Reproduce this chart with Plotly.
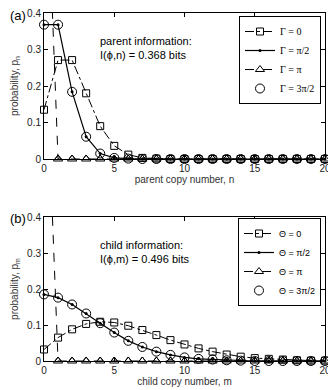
"""Parent / child copy-number distributions, two stacked panels."""

import plotly.graph_objects as go

n = list(range(21))

# panel (a): parent copy number
parent_g0 = [0.135, 0.271, 0.271, 0.180, 0.090, 0.036, 0.012, 0.003, 0.001, 0.0, 0.0,
             0.0, 0.0, 0.0, 0.0, 0.0, 0.0, 0.0, 0.0, 0.0, 0.0]
parent_g_half = [0.368, 0.368, 0.184, 0.061, 0.015, 0.003, 0.001, 0.0, 0.0, 0.0, 0.0,
                 0.0, 0.0, 0.0, 0.0, 0.0, 0.0, 0.0, 0.0, 0.0, 0.0]
parent_g_pi = [1.0] + [0.0] * 20
parent_g_3half = parent_g_half

# panel (b): child copy number
child_t0 = [0.032, 0.065, 0.088, 0.103, 0.109, 0.107, 0.098, 0.086, 0.072, 0.058, 0.046,
            0.035, 0.026, 0.018, 0.012, 0.008, 0.006, 0.004, 0.002, 0.001, 0.001]
child_t_half = [0.185, 0.176, 0.157, 0.132, 0.105, 0.079, 0.056, 0.039, 0.026, 0.017, 0.010,
                0.006, 0.004, 0.002, 0.001, 0.0, 0.0, 0.0, 0.0, 0.0, 0.0]
child_t_pi = [1.0] + [0.0] * 20
child_t_3half = child_t_half

FONT = "Liberation Sans, Arial, sans-serif"
BLACK = "black"

# the page puts the figure 8px in from the top-left corner
W, H, OFF = 328, 382, 8


def px_x(p):
    return (p - OFF) / W


def px_y(p):
    return 1 - (p - OFF) / H


def add_panel(fig, xa, ya, legend, sym, y0, y_half, y_pi, y_3half):
    common = dict(xaxis=xa, yaxis=ya, legend=legend)
    fig.add_trace(go.Scatter(
        x=n, y=y0, mode="lines+markers", name=f"{sym} = 0",
        line=dict(color=BLACK, width=1, dash="dashdot"),
        marker=dict(symbol="square-open", size=7, color=BLACK, line=dict(width=1)),
        cliponaxis=False, **common))
    fig.add_trace(go.Scatter(
        x=n, y=y_half, mode="lines+markers", name=f"{sym} = π/2",
        line=dict(color=BLACK, width=1.2),
        marker=dict(symbol="circle", size=3, color=BLACK),
        cliponaxis=False, **common))
    # dashed line keeps the off-scale first point, markers drawn separately
    fig.add_trace(go.Scatter(
        x=n, y=y_pi, mode="lines+markers", name=f"{sym} = π",
        line=dict(color=BLACK, width=1, dash="dash"),
        marker=dict(symbol="triangle-up-open", size=8, color=BLACK, line=dict(width=1)),
        cliponaxis=True, legendgroup=legend + "pi", **common))
    fig.add_trace(go.Scatter(
        x=n[1:], y=y_pi[1:], mode="markers", showlegend=False,
        marker=dict(symbol="triangle-up-open", size=8, color=BLACK, line=dict(width=1)),
        cliponaxis=False, legendgroup=legend + "pi", **common))
    fig.add_trace(go.Scatter(
        x=n, y=y_3half, mode="markers", name=f"{sym} = 3π/2",
        marker=dict(symbol="circle-open", size=9, color=BLACK, line=dict(width=1)),
        cliponaxis=False, **common))


fig = go.Figure()
add_panel(fig, "x", "y", "legend", "Γ", parent_g0, parent_g_half, parent_g_pi, parent_g_3half)
add_panel(fig, "x2", "y2", "legend2", "Θ", child_t0, child_t_half, child_t_pi, child_t_3half)

axis_style = dict(
    showline=True, linecolor=BLACK, linewidth=1, mirror="ticks", ticks="inside",
    ticklen=4, tickcolor=BLACK, showgrid=False, zeroline=False, automargin=False,
    ticklabeloverflow="allow",
    tickfont=dict(family=FONT, size=10, color="#222"),
)
title_font = dict(family=FONT, size=10, color="#333")
xdom = [px_x(44), px_x(325)]
fig.update_layout(
    width=W, height=H,
    margin=dict(l=0, r=0, t=0, b=0),
    paper_bgcolor="white", plot_bgcolor="white",
    font=dict(family=FONT, size=10, color="#111"),
    xaxis=dict(domain=xdom, range=[0, 20], dtick=5, anchor="y",
               title=dict(text="parent copy number, n", standoff=2, font=title_font),
               **axis_style),
    yaxis=dict(domain=[px_y(159), px_y(13)], range=[0, 0.4], dtick=0.1, anchor="x",
               title=dict(text="probability, p<sub>n</sub>", standoff=6, font=title_font),
               **axis_style),
    xaxis2=dict(domain=xdom, range=[0, 20], dtick=5, anchor="y2",
                title=dict(text="child copy number, m", standoff=2, font=title_font),
                **axis_style),
    yaxis2=dict(domain=[px_y(361), px_y(217)], range=[0, 0.4], dtick=0.1, anchor="x2",
                title=dict(text="probability, p<sub>m</sub>", standoff=6, font=title_font),
                **axis_style),
    legend=dict(x=px_x(321), xanchor="right", y=px_y(16), yanchor="top",
                bgcolor="white", bordercolor=BLACK, borderwidth=1,
                font=dict(family="Liberation Serif, serif", size=10, color=BLACK),
                tracegroupgap=0, itemwidth=30),
    legend2=dict(x=px_x(321), xanchor="right", y=px_y(218), yanchor="top",
                 bgcolor="white", bordercolor=BLACK, borderwidth=1,
                 font=dict(family=FONT, size=9, color=BLACK),
                 tracegroupgap=0, itemwidth=30),
    showlegend=True,
)

notes = [
    ("x", "y", "parent information:<br>I(ϕ,n) = 0.368 bits"),
    ("x2", "y2", "child information:<br>I(ϕ,m) = 0.496 bits"),
]
for xr, yr, txt in notes:
    fig.add_annotation(x=3.85, y=0.345, xref=xr, yref=yr, text=txt, showarrow=False,
                       xanchor="left", yanchor="top", align="left",
                       font=dict(family=FONT, size=11, color=BLACK))

for label, ypix in [("(a)", 15), ("(b)", 218)]:
    fig.add_annotation(x=px_x(8), y=px_y(ypix), xref="paper", yref="paper", text=label,
                       showarrow=False, xanchor="left", yanchor="middle",
                       font=dict(family=FONT, size=13, color=BLACK))

fig.write_html("out.html")
